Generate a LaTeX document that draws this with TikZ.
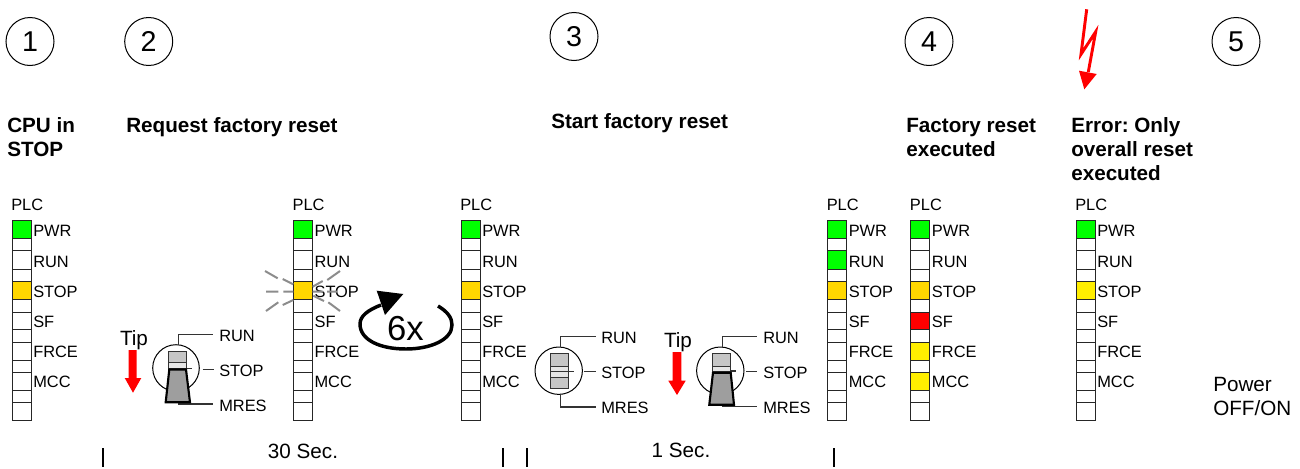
\documentclass[tikz,border=0pt]{standalone}
\usepackage{fontspec}
\setmainfont{Liberation Sans}
\frenchspacing
\definecolor{ledgreen}{HTML}{00FF00}
\definecolor{ledgold}{HTML}{FFD700}
\definecolor{ledyellow}{HTML}{FFEE00}
\definecolor{flashgray}{HTML}{8C8C8C}
\definecolor{linegray}{HTML}{333333}
\tikzset{
  txt/.style={inner sep=0pt,anchor=base west,font=\fontsize{12.3pt}{14pt}\selectfont,text=black},
  big/.style={inner sep=0pt,font=\fontsize{15.5pt}{17pt}\selectfont,text=black},
  head/.style={inner sep=0pt,anchor=base west,font=\fontsize{15.5pt}{17pt}\selectfont\bfseries},
  numcirc/.style={draw,circle,line width=0.75pt,minimum size=36pt,inner sep=0pt,font=\fontsize{21.5pt}{23pt}\selectfont},
  cell/.style={draw=black!85,line width=0.75pt},
  lead/.style={draw=linegray,line width=0.9pt},
  flash/.style={draw=flashgray,line width=1.5pt},
  bar/.style={draw=black,line width=1.5pt}
}
% #1 id, #2 x, #3..#8 LED colours
\newcommand\plccol[8]{%
  \def\xa{#2}%
  \pgfmathsetmacro\xb{#2+19}%
  \pgfmathsetmacro\xl{#2+21}%
  \filldraw[cell,fill=#3] (\xa,220.7) rectangle (\xb,238.3);
  \draw[cell] (\xa,238.3) rectangle (\xb,250.7);
  \filldraw[cell,fill=#4] (\xa,250.7) rectangle (\xb,269.3);
  \draw[cell] (\xa,269.3) rectangle (\xb,281.3);
  \filldraw[cell,fill=#5] (\xa,281.3) rectangle (\xb,299.3);
  \draw[cell] (\xa,299.3) rectangle (\xb,312);
  \filldraw[cell,fill=#6] (\xa,312) rectangle (\xb,329.3);
  \draw[cell] (\xa,329.3) rectangle (\xb,342);
  \filldraw[cell,fill=#7] (\xa,342) rectangle (\xb,360);
  \draw[cell] (\xa,360) rectangle (\xb,372.3);
  \filldraw[cell,fill=#8] (\xa,372.3) rectangle (\xb,390.3);
  \draw[cell] (\xa,390.3) rectangle (\xb,402.3);
  \draw[cell] (\xa,402.3) rectangle (\xb,420.7);
  \node[txt] (#1plc) at (#2-1,210) {PLC};
  \node[txt] (#1pwr) at (\xl,236.5) {PWR};
  \node[txt] (#1run) at (\xl,267) {RUN};
  \node[txt] (#1stop) at (\xl,297) {STOP};
  \node[txt] (#1sf) at (\xl,327) {SF};
  \node[txt] (#1frce) at (\xl,357) {FRCE};
  \node[txt] (#1mcc) at (\xl,387) {MCC};
}
\begin{document}
\begin{tikzpicture}[x=0.75pt,y=-0.75pt]
\useasboundingbox (0,0) rectangle (1300,468);
% step numbers
\node[numcirc] (n1) at (30,41.5) {1};
\node[numcirc] (n2) at (148.7,41.5) {2};
\node[numcirc] (n3) at (574,36.5) {3};
\node[numcirc] (n4) at (929,41.5) {4};
\node[numcirc] (n5) at (1236,41.5) {5};
% lightning
\draw[red,line width=2.2pt,line join=miter] (1086.7,9.3) -- (1081,54.3) -- (1095.7,31.7) -- (1088.3,72);
\fill[red] (1079,70.7) -- (1096.7,74) -- (1084.3,89.3) -- cycle;
% headings
\node[head] (h1a) at (7,132) {CPU in};
\node[head] (h1b) at (7,156) {STOP};
\node[head] (h2) at (126,132) {Request factory reset};
\node[head] (h3) at (551,128) {Start factory reset};
\node[head] (h4a) at (906,132) {Factory reset};
\node[head] (h4b) at (906,156) {executed};
\node[head] (h5a) at (1071,132) {Error: Only};
\node[head] (h5b) at (1071,156) {overall reset};
\node[head] (h5c) at (1071,180) {executed};
% PLC columns
\plccol{a}{12}{ledgreen}{white}{ledgold}{white}{white}{white}
\plccol{b}{293.3}{ledgreen}{white}{ledgold}{white}{white}{white}
\plccol{c}{461}{ledgreen}{white}{ledgold}{white}{white}{white}
\plccol{d}{827.5}{ledgreen}{ledgreen}{ledgold}{white}{white}{white}
\plccol{e}{910.7}{ledgreen}{white}{ledgold}{red}{ledyellow}{ledyellow}
\plccol{f}{1076}{ledgreen}{white}{ledyellow}{white}{white}{white}
% flash rays
\draw[flash] (266,291.7) -- (278.3,291.7) (283.3,291.7) -- (293.3,291.7)
  (265,271) -- (277.7,278.3) (282.7,279) -- (293.3,284.3)
  (266,311) -- (278.3,302.3) (282.7,305) -- (293.3,300)
  (312.7,291.7) -- (323,291.7) (327,291.7) -- (337,291.7)
  (340,271) -- (327.3,280) (322.7,281) -- (312.7,286.7)
  (340,311) -- (328.3,302.3) (324,301) -- (313.3,295.7);
% 6x
\draw[black,line width=2.6pt] (438,306) .. controls (448,312) and (452,318) .. (452,325)
  .. controls (452,340) and (430,349) .. (406,349)
  .. controls (380,349) and (360,340) .. (360,324)
  .. controls (360,316) and (368,310) .. (381,305);
\fill[black] (376.7,290.7) -- (403.3,294) -- (385,315) -- cycle;
\node[inner sep=0pt,font=\fontsize{26pt}{28pt}\selectfont] (six) at (405.5,328.5) {6x};
% Tip arrows
\node[big,anchor=base] (tip1) at (134,345) {Tip};
\node[big,anchor=base] (tip2) at (678,347) {Tip};
\fill[red] (128.7,350) -- (136.7,350) -- (136.7,378) -- (141.3,378) -- (133,392.7) -- (124.7,378) -- (128.7,378) -- cycle;
\fill[red] (672.7,352) -- (681.3,352) -- (681.3,380.7) -- (685.7,380.7) -- (677,395) -- (668.3,380.7) -- (672.7,380.7) -- cycle;
% switch 1 (pressed)
\draw[line width=0.75pt] (176,368) circle (23.3);
\draw[lead] (178.3,345) -- (178.3,334.7) -- (213,334.7);
\draw[lead] (202.7,369.3) -- (214,369.3);
\draw[lead] (178.3,404) -- (213,404);
\filldraw[draw=linegray,fill=lightgray!90!white,line width=0.75pt] (168.3,351.7) rectangle (186,369);
\filldraw[draw=linegray,fill=black!10,line width=0.75pt] (168.3,362.7) rectangle (186,368.5);
\draw[lead] (186,368.5) -- (191.7,368.5);
\filldraw[draw=black,fill=black!38,line width=1.6pt] (169.3,369.5) -- (186,369.5) -- (190,402.3) -- (165.7,402.3) -- cycle;
\node[txt] (s1r) at (219,341) {RUN};
\node[txt] (s1s) at (219,376) {STOP};
\node[txt] (s1m) at (219,411) {MRES};
% switch 2 (neutral)
\draw[line width=0.75pt] (558.7,370.7) circle (23.7);
\draw[lead] (560.7,347.3) -- (560.7,336.7) -- (596,336.7);
\draw[lead] (584.3,371.7) -- (596,371.7);
\draw[lead] (560.7,394.3) -- (560.7,407) -- (596,407);
\filldraw[draw=linegray,fill=lightgray!90!white,line width=0.75pt] (550.7,353.3) rectangle (568.3,388.7);
\filldraw[draw=linegray,fill=black!10,line width=0.75pt] (550.7,366) rectangle (568.3,377.7);
\draw[lead] (550.7,371.7) -- (574,371.7);
\node[txt] (s2r) at (601,343) {RUN};
\node[txt] (s2s) at (601,378) {STOP};
\node[txt] (s2m) at (601,413) {MRES};
% switch 3 (pressed)
\draw[line width=0.75pt] (720.3,370.7) circle (23.7);
\draw[lead] (722.3,347.3) -- (722.3,336.7) -- (757.3,336.7);
\draw[lead] (746,371.7) -- (757.3,371.7);
\draw[lead] (722.3,406.7) -- (757.3,406.7);
\filldraw[draw=linegray,fill=lightgray!90!white,line width=0.75pt] (712.7,353.3) rectangle (730.7,372);
\filldraw[draw=linegray,fill=black!10,line width=0.75pt] (712.7,366) rectangle (730.7,371);
\draw[lead] (730.7,371) -- (736,371);
\filldraw[draw=black,fill=black!38,line width=1.6pt] (713,372.7) -- (730.7,372.7) -- (734,404.7) -- (709.3,404.7) -- cycle;
\node[txt] (s3r) at (763,343) {RUN};
\node[txt] (s3s) at (763,378) {STOP};
\node[txt] (s3m) at (763,413) {MRES};
% bottom
\coordinate (b1t) at (103,448); \coordinate (b1b) at (103,467);
\coordinate (b2t) at (503,448); \coordinate (b2b) at (503,467);
\coordinate (b3t) at (527,448); \coordinate (b3b) at (527,467);
\coordinate (b4t) at (834,448); \coordinate (b4b) at (834,467);
\draw[bar] (b1t) -- (b1b) (b2t) -- (b2b) (b3t) -- (b3b) (b4t) -- (b4b);
\node[big,anchor=base] (t30) at (303,458) {30 Sec.};
\node[big,anchor=base] (t1) at (681,457) {1 Sec.};
\node[big,anchor=base west] (pw1) at (1213,391) {Power};
\node[big,anchor=base west] (pw2) at (1213,415) {OFF/ON};
\end{tikzpicture}
\end{document}
